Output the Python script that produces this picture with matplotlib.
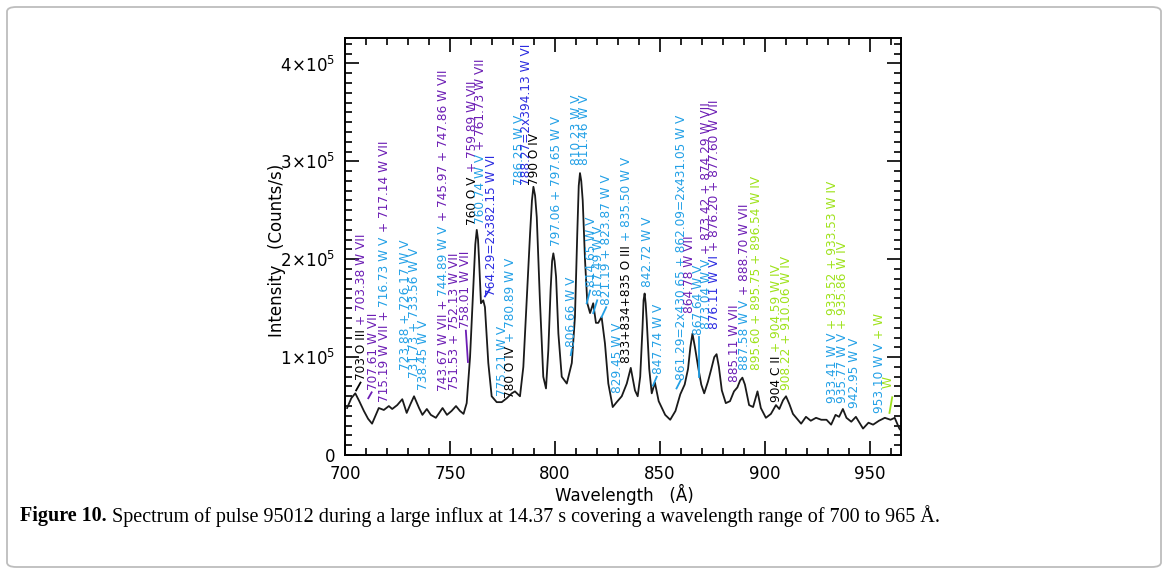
import numpy as np
import matplotlib.pyplot as plt
from matplotlib.ticker import MultipleLocator, FixedLocator, FixedFormatter
from matplotlib.transforms import offset_copy
from matplotlib.patches import FancyBboxPatch

# spectrum (intensity in units of 1e5 counts/s)
wavelength = [701.0, 703.0, 704.9, 706.8, 709.0, 711.0, 712.9, 714.5, 716.1, 718.5,
              720.9, 722.5, 724.9, 727.3, 729.4, 731.2, 732.9, 735.3, 736.9, 739.0,
              740.9, 743.3, 746.5, 748.6, 750.8, 752.9, 754.8, 756.5, 758.0, 759.6,
              761.2, 762.1, 762.8, 763.4, 763.9, 764.8, 765.9, 766.7, 768.3, 769.9,
              772.3, 774.7, 777.1, 779.5, 781.0, 783.4, 785.0, 786.6, 788.2, 789.1,
              789.8, 790.6, 791.4, 792.9, 794.5, 795.8, 796.9, 798.0, 798.7, 799.3,
              799.9, 800.6, 801.7, 803.3, 805.7, 808.1, 809.6, 810.7, 811.4, 812.0,
              812.6, 813.3, 814.4, 815.5, 816.8, 818.3, 819.6, 820.7, 822.3, 823.9,
              825.5, 827.6, 829.5, 831.9, 834.3, 836.2, 838.2, 839.5, 840.7, 841.8,
              842.3, 842.8, 843.3, 843.8, 845.0, 846.2, 847.7, 849.5, 852.6, 855.0,
              857.5, 859.8, 861.9, 863.5, 864.6, 865.6, 866.8, 868.3, 869.8, 871.2,
              873.0, 874.6, 876.0, 877.1, 878.2, 879.6, 881.5, 883.5, 885.4, 887.0,
              888.3, 889.4, 890.6, 892.6, 894.5, 896.6, 898.2, 900.6, 903.0, 905.4,
              907.0, 908.8, 910.2, 911.8, 913.5, 917.4, 919.7, 922.0, 924.5, 927.0,
              929.5, 931.7, 933.8, 935.5, 937.3, 939.0, 941.3, 943.5, 946.9, 949.5,
              951.7, 954.5, 957.3, 960.0, 962.0, 964.2, 965.0]
intensity = [0.48, 0.58, 0.63, 0.55, 0.45, 0.37, 0.32, 0.40, 0.48, 0.46,
             0.50, 0.47, 0.51, 0.57, 0.43, 0.52, 0.60, 0.48, 0.41, 0.47,
             0.41, 0.38, 0.48, 0.41, 0.45, 0.50, 0.45, 0.42, 0.53, 1.00,
             1.75, 2.15, 2.30, 2.20, 1.99, 1.55, 1.58, 1.51, 0.94, 0.60,
             0.54, 0.54, 0.58, 0.63, 0.65, 0.60, 0.90, 1.58, 2.26, 2.60,
             2.74, 2.65, 2.43, 1.58, 0.80, 0.68, 1.07, 1.69, 1.98, 2.06,
             1.98, 1.82, 1.24, 0.80, 0.73, 0.94, 1.41, 2.26, 2.75, 2.88,
             2.80, 2.60, 1.99, 1.55, 1.45, 1.55, 1.35, 1.35, 1.41, 1.14,
             0.73, 0.49, 0.54, 0.60, 0.73, 0.89, 0.66, 0.60, 0.80, 1.30,
             1.58, 1.65, 1.55, 1.38, 0.88, 0.63, 0.74, 0.55, 0.41, 0.36,
             0.45, 0.62, 0.72, 0.88, 1.10, 1.24, 1.10, 0.90, 0.72, 0.63,
             0.75, 0.88, 1.00, 1.03, 0.90, 0.66, 0.53, 0.55, 0.65, 0.69,
             0.76, 0.79, 0.72, 0.51, 0.49, 0.65, 0.48, 0.38, 0.42, 0.51,
             0.47, 0.56, 0.60, 0.52, 0.42, 0.32, 0.39, 0.35, 0.38, 0.36,
             0.36, 0.31, 0.41, 0.39, 0.47, 0.38, 0.34, 0.39, 0.27, 0.33,
             0.31, 0.35, 0.38, 0.36, 0.38, 0.27, 0.25]

K = 'black'
B = '#22a0e6'   # W V
P = '#6c1db4'   # W VII
D = '#2b2be0'   # W VI
G = '#9ee21a'   # W IV

# line identifications: column position, start height, coloured pieces
label_wl = [708.0, 713.5, 719.0, 728.6, 733.3, 737.3, 746.8, 752.4, 757.3, 760.6,
            764.4, 770.0, 774.9, 779.0, 783.3, 786.5, 790.5, 800.9, 808.1, 810.3,
            814.3, 817.6, 820.7, 824.7, 829.8, 834.3, 844.4, 849.2, 860.3, 864.3,
            868.6, 872.2, 876.2, 885.7, 890.5, 896.0, 905.6, 910.3, 932.5, 937.3,
            942.9, 954.8, 958.7]
label_int = [0.77, 0.66, 0.54, 0.87, 0.79, 0.66, 0.65, 0.66, 1.30, 2.35,
             2.36, 1.62, 0.60, 0.58, 2.76, 2.76, 2.76, 2.14, 1.10, 2.96,
             2.96, 1.72, 1.62, 1.53, 0.63, 0.94, 1.72, 0.83, 0.77, 1.45,
             1.23, 1.29, 1.29, 0.75, 0.87, 0.87, 0.54, 0.66, 0.53, 0.53,
             0.48, 0.43, 0.68]
label_parts = [
    [('703 O III', K), ('+ 703.38 W VII', P)],
    [('707.61 W VII', P)],
    [('715.19 W VII +', P), ('716.73 W V', B), ('+ 717.14 W VII', P)],
    [('723.88 + 726.17 W V', B)],
    [('731.73 + 733.56 W V', B)],
    [('738.45 W V', B)],
    [('743.67 W VII +', P), ('744.89 W V', B), ('+ 745.97 + 747.86 W VII', P)],
    [('751.53 + 752.13 W VII', P)],
    [('758.01 W VII', P)],
    [('760 O V', K), ('+ 759.89 W VII', P)],
    [('760.74 W V', B), ('+ 761.73 W VII', P)],
    [('764.29=2x382.15 W VI', D)],
    [('775.21 W V', B)],
    [('780 O IV', K), ('+ 780.89 W V', B)],
    [('786.25 W V', B)],
    [('788.27=2x394.13 W VI', D)],
    [('790 O IV', K)],
    [('797.06 + 797.65 W V', B)],
    [('806.66 W V', B)],
    [('810.23 W V', B)],
    [('811.46 W V', B)],
    [('814.65 W V', B)],
    [('817.49 W V', B)],
    [('821.19 + 823.87 W V', B)],
    [('829.45 W V', B)],
    [('833+834+835 O III', K), ('+ 835.50 W V', B)],
    [('842.72 W V', B)],
    [('847.74 W V', B)],
    [('861.29=2x430.65 + 862.09=2x431.05 W V', B)],
    [('864.78 W VII', P)],
    [('867.64 W V', B)],
    [('873.04 W V', B), ('+ 873.42 + 874.29 W VII', P)],
    [('876.11 W VI', D), ('+ 876.20 + 877.60 W VII', P)],
    [('885.11 W VII', P)],
    [('887.58 W V', B), ('+ 888.70 W VII', P)],
    [('895.60 + 895.75 + 896.54 W IV', G)],
    [('904 C II', K), ('+ 904.59 W IV', G)],
    [('908.22 + 910.06 W IV', G)],
    [('933.41 W V', B), ('+ 933.52 + 933.53 W IV', G)],
    [('935.77 W V', B), ('+ 935.86 W IV', G)],
    [('942.95 W V', B)],
    [('953.10 W V', B), ('+ W', G)],
    [('W', G)],
]

# short leader lines from peaks to labels
leader_wl = [(705.3, 707.4), (711.1, 712.7), (758.6, 757.6), (766.7, 768.9),
             (807.6, 808.1), (815.2, 816.8), (818.3, 820.2), (822.3, 824.5),
             (846.8, 848.6), (858.0, 859.9), (868.6, 868.6), (959.5, 960.8)]
leader_int = [(0.66, 0.74), (0.58, 0.64), (0.95, 1.27), (1.62, 1.69),
              (1.02, 1.08), (1.55, 1.68), (1.45, 1.58), (1.41, 1.51),
              (0.71, 0.80), (0.68, 0.76), (0.80, 1.21), (0.43, 0.59)]
leader_col = [K, P, P, D, B, B, B, B, B, B, B, G]

fig = plt.figure(figsize=(11.68, 5.74), dpi=100)
ax = fig.add_axes([345 / 1168, 1 - 455 / 574, 556 / 1168, 417 / 574])

ax.plot(wavelength, np.array(intensity) * 1e5, color='#1a1a1a', lw=1.3,
        solid_joinstyle='round')

for (x0, x1), (y0, y1), c in zip(leader_wl, leader_int, leader_col):
    ax.plot([x0, x1], [y0 * 1e5, y1 * 1e5], color=c, lw=1.3)

ax.set_xlim(700, 965)
ax.set_ylim(0, 4.26e5)

fs = 8.7
renderer = fig.canvas.get_renderer()
gap = 0.34 * fs * fig.dpi / 72
for x, y, parts in zip(label_wl, label_int, label_parts):
    off = 0.0
    for s, c in parts:
        tr = offset_copy(ax.transData, fig=fig, x=0, y=off, units='dots')
        t = ax.text(x, y * 1e5, s, color=c, rotation=90, ha='center', va='bottom',
                    fontsize=fs, family='DejaVu Sans', transform=tr)
        off += t.get_window_extent(renderer=renderer).height + gap

ax.xaxis.set_major_locator(MultipleLocator(50))
ax.xaxis.set_minor_locator(MultipleLocator(10))
yt = [0, 1e5, 2e5, 3e5, 4e5]
ax.yaxis.set_major_locator(FixedLocator(yt))
ax.yaxis.set_major_formatter(FixedFormatter(['0', r'$1\!\times\!10^5$', r'$2\!\times\!10^5$',
                                             r'$3\!\times\!10^5$', r'$4\!\times\!10^5$']))
ax.yaxis.set_minor_locator(MultipleLocator(1e4))
ax.tick_params(which='both', direction='in', top=True, right=True, width=1.2)
ax.tick_params(which='major', length=10, labelsize=12, pad=7)
ax.tick_params(which='minor', length=5)
for sp in ax.spines.values():
    sp.set_linewidth(1.4)

fig.text(624 / 1168, 1 - 494 / 574, 'Wavelength   (Å)', ha='center', va='center', fontsize=12)
fig.text(277 / 1168, 1 - 250 / 574, 'Intensity   (Counts/s)', ha='center', va='center',
         fontsize=12, rotation=90)

# caption
cap = fig.text(20 / 1168, 1 - 516 / 574, 'Figure 10.', fontsize=14.5, fontweight='bold',
               family='Liberation Serif', ha='left', va='center')
bb = cap.get_window_extent(renderer=renderer)
fig.text((bb.x1 + 5) / 1168, 1 - 516 / 574,
         'Spectrum of pulse 95012 during a large influx at 14.37 s covering a wavelength range of 700 to 965 Å.',
         fontsize=14.5, family='Liberation Serif', ha='left', va='center')

frame = FancyBboxPatch((7 / 1168, 7 / 574), 1154 / 1168, 560 / 574,
                       boxstyle='round,pad=0,rounding_size=0.008', transform=fig.transFigure,
                       fill=False, ec='#bdbdbd', lw=1.3)
fig.patches.append(frame)

fig.savefig('out.png', dpi=100)
